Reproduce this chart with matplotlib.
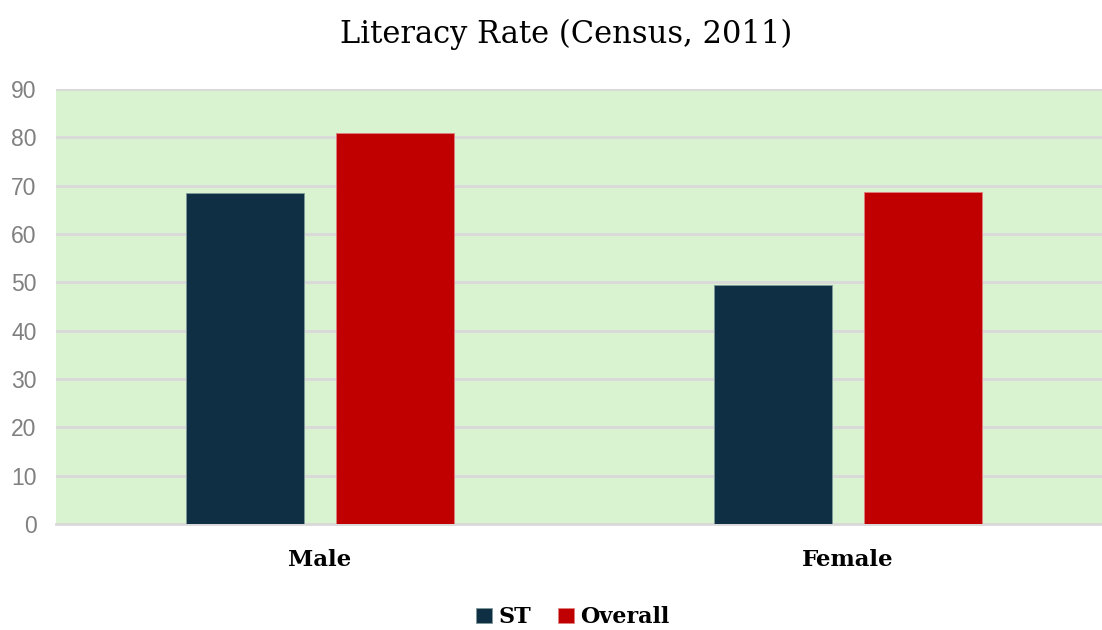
import matplotlib.pyplot as plt
import numpy as np

categories = ["Male", "Female"]
series = ["ST", "Overall"]
st_values = [68.5, 49.4]
overall_values = [80.9, 68.6]
y_ticks = [0, 10, 20, 30, 40, 50, 60, 70, 80, 90]

colors = ["#0E2F44", "#C00000"]
serif = ["DejaVu Serif"]

fig = plt.figure(figsize=(11.02, 6.3), dpi=100)
ax = fig.add_axes([56 / 1102, 106 / 630, 1046 / 1102, 435 / 630])
ax.set_facecolor("#D9F2D0")

x = np.arange(len(categories))
width = 0.225
ax.bar(x - 0.142, st_values, width, color=colors[0], edgecolor="#7F9A9A",
       linewidth=0.6, label=series[0], zorder=3)
ax.bar(x + 0.142, overall_values, width, color=colors[1], edgecolor="#E08080",
       linewidth=0.6, label=series[1], zorder=3)

ax.set_xlim(-0.5, 1.481)
ax.set_ylim(0, 90)
ax.set_yticks(y_ticks)
ax.yaxis.grid(True, color="#D9D9D9", linewidth=2, zorder=1)
ax.set_axisbelow(True)
for s in ["top", "right", "left"]:
    ax.spines[s].set_visible(False)
ax.spines["bottom"].set_color("#D9D9D9")
ax.spines["bottom"].set_linewidth(2)
ax.tick_params(axis="y", length=0, labelsize=16.5, labelcolor="#808080", pad=14)
ax.tick_params(axis="x", length=0, pad=18)
for lab in ax.get_yticklabels():
    lab.set_family("Liberation Sans")
ax.set_xticks(x)
ax.set_xticklabels(categories, fontsize=16.5, fontweight="bold", family=serif)

fig.text(0.514, 0.946, "Literacy Rate (Census, 2011)", ha="center", va="center",
         fontsize=22, family=serif)

leg = fig.legend(loc="center", bbox_to_anchor=(0.52, 0.02), ncol=2, frameon=False,
                 prop={"family": serif, "weight": "bold", "size": 16},
                 handlelength=0.7, handleheight=0.7, handletextpad=0.3,
                 columnspacing=1.2)

fig.savefig("out.png", dpi=100)
